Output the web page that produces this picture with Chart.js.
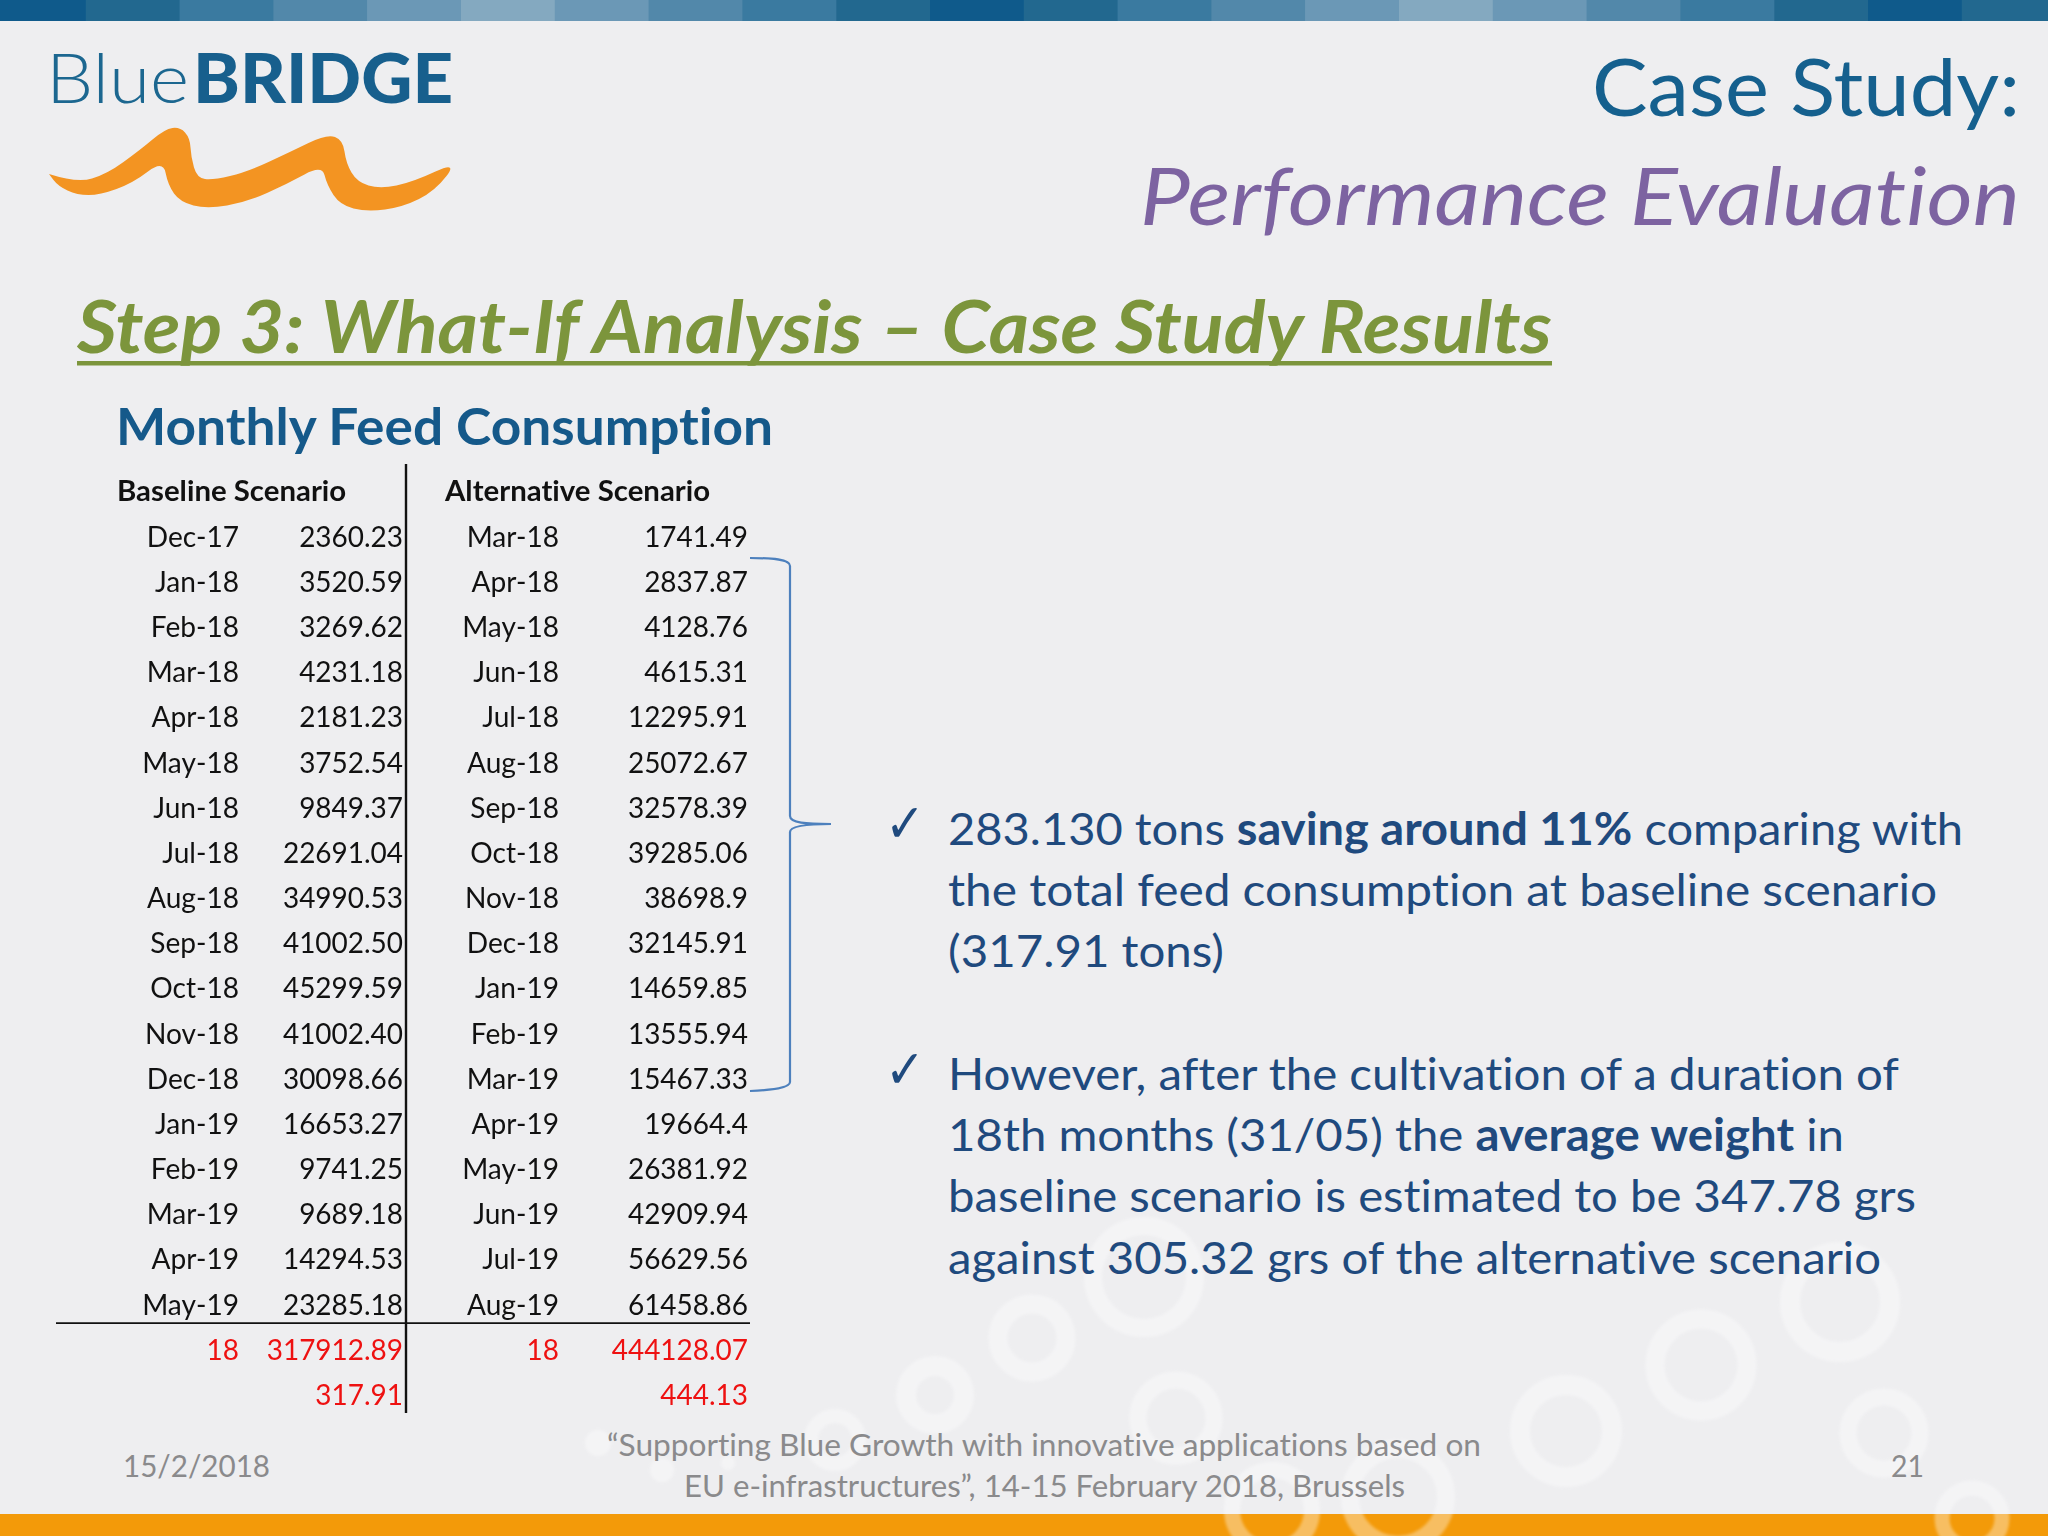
<!DOCTYPE html>
<html><head><meta charset="utf-8">
<script src="https://cdn.jsdelivr.net/npm/chart.js@4"></script>
<style>
html,body{margin:0;padding:0;background:#eeeef0;width:2048px;height:1536px;overflow:hidden}
#stage{position:absolute;left:0;top:0;width:2048px;height:1536px}
#slide{position:absolute;left:0;top:0}
#c{position:absolute;left:0;top:0}
text{font-variant-ligatures:none}
</style></head><body>
<div id="stage">
<svg id="slide" width="2048" height="1536" viewBox="0 0 2048 1536" xmlns="http://www.w3.org/2000/svg"></svg>
<canvas id="c" width="2048" height="1536"></canvas>
</div>
<script>
// ---------- table data ----------
const scenarioHeaders = ["Baseline Scenario", "Alternative Scenario"];
const baselineMonths = ["Dec-17","Jan-18","Feb-18","Mar-18","Apr-18","May-18","Jun-18","Jul-18","Aug-18","Sep-18","Oct-18","Nov-18","Dec-18","Jan-19","Feb-19","Mar-19","Apr-19","May-19"];
const baselineFeed = ["2360.23","3520.59","3269.62","4231.18","2181.23","3752.54","9849.37","22691.04","34990.53","41002.50","45299.59","41002.40","30098.66","16653.27","9741.25","9689.18","14294.53","23285.18"];
const alternativeMonths = ["Mar-18","Apr-18","May-18","Jun-18","Jul-18","Aug-18","Sep-18","Oct-18","Nov-18","Dec-18","Jan-19","Feb-19","Mar-19","Apr-19","May-19","Jun-19","Jul-19","Aug-19"];
const alternativeFeed = ["1741.49","2837.87","4128.76","4615.31","12295.91","25072.67","32578.39","39285.06","38698.9","32145.91","14659.85","13555.94","15467.33","19664.4","26381.92","42909.94","56629.56","61458.86"];
const monthCounts = ["18","18"];
const totalsKg = ["317912.89","444128.07"];
const totalsTons = ["317.91","444.13"];

// ---------- layout / style (not data) ----------
const rowKeys = ["head", ...baselineMonths, "count", "tons"];
const colRight = [239, 403, 559, 748];
const headLeft = [117, 445];
const dividerX = 406, ruleLeft = 56, ruleRight = 750;
const INK = "#111111", RED = "#ee1111";
const TABLE_FONT = 28.5, MONTH_STRETCH = 0.985, VALUE_STRETCH = 0.98, HEAD_STRETCH = 1.03;

function col(items, x, stretch) { return items.map((m, i) => ({ x, y: rowKeys[i + 1], label: m, stretch })); }

const cellDatasets = [
  { data: [...col(baselineMonths, colRight[0], MONTH_STRETCH), { x: colRight[0], y: "count", label: monthCounts[0], color: RED, stretch: VALUE_STRETCH }] },
  { data: [...col(baselineFeed, colRight[1], VALUE_STRETCH), { x: colRight[1], y: "count", label: totalsKg[0], color: RED, stretch: VALUE_STRETCH }, { x: colRight[1], y: "tons", label: totalsTons[0], color: RED, stretch: VALUE_STRETCH }] },
  { data: [...col(alternativeMonths, colRight[2], MONTH_STRETCH), { x: colRight[2], y: "count", label: monthCounts[1], color: RED, stretch: VALUE_STRETCH }] },
  { data: [...col(alternativeFeed, colRight[3], VALUE_STRETCH), { x: colRight[3], y: "count", label: totalsKg[1], color: RED, stretch: VALUE_STRETCH }, { x: colRight[3], y: "tons", label: totalsTons[1], color: RED, stretch: VALUE_STRETCH }] },
  { data: scenarioHeaders.map((h, i) => ({ x: headLeft[i], y: "head", label: h, head: true, stretch: HEAD_STRETCH })) }
].map(d => ({ ...d, pointRadius: 0, showLine: false }));

const tablePlugin = {
  id: "tableCells",
  afterDatasetsDraw(chart) {
    const g = chart.ctx, xs = chart.scales.x, ys = chart.scales.y;
    g.save();
    g.textBaseline = "alphabetic";
    if ("letterSpacing" in g) g.letterSpacing = "0.01px";
    chart.data.datasets.forEach((ds, di) => {
      const meta = chart.getDatasetMeta(di);
      ds.data.forEach((p, i) => {
        const el = meta.data[i];
        g.save();
        g.translate(el.x, el.y + 10.5);
        g.scale(p.stretch, 1);
        g.font = (p.head ? "700 " : "400 ") + TABLE_FONT + "px Lato";
        g.fillStyle = p.color || INK;
        g.textAlign = p.head ? "left" : "right";
        g.fillText(p.label, 0, 0);
        g.restore();
      });
    });
    // table rules tied to the scales
    const band = ys.getPixelForValue(1) - ys.getPixelForValue(0);
    g.strokeStyle = "#111";
    g.lineWidth = 2.4;
    const vx = xs.getPixelForValue(dividerX);
    g.beginPath();
    g.moveTo(vx, ys.getPixelForValue(0) - band / 2 - 4.5);
    g.lineTo(vx, ys.getPixelForValue(rowKeys.length - 1) + band / 2 - 4);
    g.stroke();
    const hy = ys.getPixelForValue(rowKeys.indexOf("count")) - band / 2 - 3.5;
    g.lineWidth = 1.8;
    g.beginPath();
    g.moveTo(xs.getPixelForValue(ruleLeft), hy);
    g.lineTo(xs.getPixelForValue(ruleRight), hy);
    g.stroke();
    g.restore();
  }
};

new Chart(document.getElementById("c"), {
  type: "scatter",
  data: { datasets: cellDatasets },
  options: {
    responsive: false, animation: false, devicePixelRatio: 1,
    layout: { padding: { top: 468.4, bottom: 119, left: 0, right: 0 } },
    plugins: { legend: { display: false }, tooltip: { enabled: false }, title: { display: false } },
    scales: {
      x: { type: "linear", min: 0, max: 2048, display: false },
      y: { type: "category", labels: rowKeys, offset: true, display: false }
    }
  },
  plugins: [tablePlugin]
});

// ---------- slide dressing ----------
const svg = document.getElementById("slide");
const NS = "http://www.w3.org/2000/svg";
function el(name, attrs, parent) {
  const e = document.createElementNS(NS, name);
  for (const k in attrs) e.setAttribute(k, attrs[k]);
  (parent || svg).appendChild(e);
  return e;
}
const defs = el("defs", {});
const blur = el("filter", { id: "soft", x: "-20%", y: "-20%", width: "140%", height: "140%" }, defs);
el("feGaussianBlur", { stdDeviation: 1.8 }, blur);

el("rect", { x: 0, y: 0, width: 2048, height: 1536, fill: "#eeeef0" });
// top band
const bandColors = ["#0f5a8b","#22688f","#3a7aa0","#5288aa","#6b98b6","#84a9c0","#6b98b6","#5288aa","#3a7aa0","#22688f"];
for (let i = 0; i < 23; i++) {
  el("rect", { x: -8 + i * 93.8, y: 0, width: 94.5, height: 21, fill: bandColors[i % 10] });
}
// bottom band
el("rect", { x: 0, y: 1514, width: 2048, height: 22, fill: "#f39a09" });
// rings
const rings = [[1144,1277,51,18],[1032,1338,34,19],[935,1395,29,20],[1176,1418,38,17],[835,1440,24,14],[1701,1365,46,19],[1840,1302,50,20],[1566,1431,46,20],[1884,1433,36,17],[1972,1518,30,15],[1272,1510,40,16],[1398,1497,48,18]];
const ringLayer = el("g", { filter: "url(#soft)", opacity: 0.36 });
rings.forEach(r => el("circle", { cx: r[0], cy: r[1], r: r[2], fill: "none", stroke: "#ffffff", "stroke-width": r[3] }, ringLayer));
[[598,1443,13],[662,1470,12],[728,1463,7]].forEach(b => el("circle", { cx: b[0], cy: b[1], r: b[2], fill: "#ffffff" }, ringLayer));

// swoosh
const sw = [[49,174],[77,183],[107,174],[140,150],[165,129],[180,127],[190,138],[191,157],[197,178],[213,180],[247,172],[290,152],[327,134],[343,140],[346,163],[357,182],[380,189],[413,182],[458,161],[435,191],[403,207],[367,212],[340,205],[327,185],[322,165],[287,184],[247,202],[207,209],[180,202],[168,185],[163,160],[133,183],[100,195],[77,195],[58,186]];
let swD = "M" + sw[0].join(",");
for (let i = 1; i < sw.length; i++) {
  const n = sw[(i + 1) % sw.length];
  swD += " Q" + sw[i].join(",") + " " + (sw[i][0] + n[0]) / 2 + "," + (sw[i][1] + n[1]) / 2;
}
el("path", { fill: "#f39422", d: swD + " Z" });

function txt(str, x, y, w, size, color, opts) {
  opts = opts || {};
  const t = el("text", { x, y, "font-size": size, fill: color, "font-family": opts.family || "Lato",
    "font-weight": opts.weight || 400, "font-style": opts.style || "normal", textLength: w, lengthAdjust: "spacingAndGlyphs" });
  if (Array.isArray(str)) {
    str.forEach(run => {
      const s = el("tspan", { "font-weight": run[1] ? 700 : 400 }, t);
      s.textContent = run[0];
    });
  } else t.textContent = str;
  return t;
}
// logo
txt("Blue", 46, 103, 143, 68, "#1c6790", { weight: 300 });
txt("BRIDGE", 193, 103, 260, 68, "#175f8d", { weight: 900 });

// titles
txt("Case Study:", 1592, 116, 428, 80, "#15608e");
txt("Performance Evaluation", 1140, 225, 880, 80, "#7d63a1", { style: "italic" });
txt("Step 3: What-If Analysis – Case Study Results", 77, 353, 1475, 72, "#7c953c", { weight: 700, style: "italic" });
el("rect", { x: 77, y: 361, width: 1475, height: 4.5, fill: "#7c953c" });
txt("Monthly Feed Consumption", 116, 445, 657, 52, "#15598a", { weight: 700 });

// bracket
el("path", { fill: "none", stroke: "#4d80bd", "stroke-width": 2.2,
  d: "M750,558 C772,558 790,559 790,566 L790,816 C790,823 806,824 831,824 C806,824 790,826 790,832 L790,1082 C790,1088 772,1090 750,1091" });

// bullets
const INKB = "#1f4a7e";
txt("✓", 885, 842, 40, 54, INKB, { family: "DejaVu Sans" });
txt("✓", 885, 1088, 40, 54, INKB, { family: "DejaVu Sans" });
const bullets = [
  [[["283.130 tons ",0],["saving around 11%",1],[" comparing with",0]], 845, 1015],
  [[["the total feed consumption at baseline scenario",0]], 906, 989],
  [[["(317.91 tons)",0]], 967, 276],
  [[["However, after the cultivation of a duration of",0]], 1090, 951],
  [[["18th months (31/05) the ",0],["average weight",1],[" in",0]], 1151, 896],
  [[["baseline scenario is estimated to be 347.78 grs",0]], 1212, 968],
  [[["against 305.32 grs of the alternative scenario",0]], 1274, 933]
];
bullets.forEach(b => txt(b[0], 948, b[1], b[2], 45, INKB));

// footer
const GREY = "#8a8a8c";
txt("15/2/2018", 123, 1477, 147, 31, GREY);
txt("“Supporting Blue Growth with innovative applications based on", 607, 1456, 874, 31, GREY);
txt("EU e-infrastructures”, 14-15 February 2018, Brussels", 684, 1497, 721, 31, GREY);
txt("21", 1891, 1477, 33, 31, GREY);
</script>
</body></html>
